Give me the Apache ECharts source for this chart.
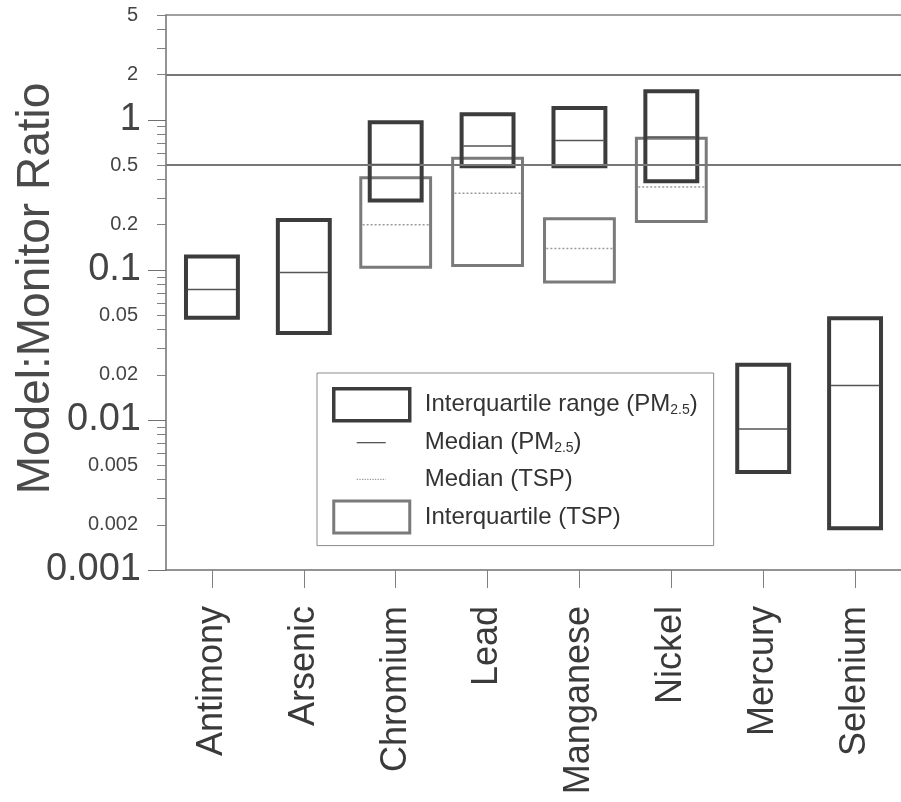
<!DOCTYPE html>
<html>
<head>
<meta charset="utf-8">
<script src="https://cdn.jsdelivr.net/npm/echarts@6/dist/echarts.min.js"></script>
<style>html,body{margin:0;padding:0;background:#fff}#c{width:901px;height:802px}</style>
</head>
<body>
<div id="c"></div>
<script>
// ---- data ----
const categories = ['Antimony', 'Arsenic', 'Chromium', 'Lead', 'Manganese', 'Nickel', 'Mercury', 'Selenium'];
const pm25Q1     = [0.048, 0.038, 0.29, 0.49, 0.49, 0.39, 0.0045, 0.0019];
const pm25Median = [0.074, 0.096, 0.505, 0.67, 0.73, 0.77, 0.0087, 0.017];
const pm25Q3     = [0.123, 0.215, 0.965, 1.09, 1.2, 1.55, 0.0233, 0.0476];
const tspQ1      = [null, null, 0.104, 0.107, 0.083, 0.21, null, null];
const tspMedian  = [null, null, 0.2, 0.324, 0.139, 0.357, null, null];
const tspQ3      = [null, null, 0.412, 0.555, 0.219, 0.755, null, null];
const refLines   = [2, 0.5];
const yLabelValues = [0.001, 0.002, 0.005, 0.01, 0.02, 0.05, 0.1, 0.2, 0.5, 1, 2, 5];
const yMajorTicks  = [0.001, 0.01, 0.1, 1];
const yMinorTicks  = [0.002, 0.003, 0.004, 0.005, 0.006, 0.007, 0.008, 0.009,
                      0.02, 0.03, 0.04, 0.05, 0.06, 0.07, 0.08, 0.09,
                      0.2, 0.3, 0.4, 0.5, 0.6, 0.7, 0.8, 0.9,
                      2, 3, 4, 5];
const legendNames = ['Interquartile range (PM2.5)', 'Median (PM2.5)', 'Median (TSP)', 'Interquartile (TSP)'];

// ---- helpers ----
const FONT = '"Liberation Sans", Arial, Helvetica, sans-serif';
function boxData(q1, q3) {
  const out = [];
  categories.forEach((c, i) => { if (q1[i] != null && q3[i] != null) out.push([i, q1[i], q3[i]]); });
  return out;
}
function medData(m) {
  const out = [];
  categories.forEach((c, i) => { if (m[i] != null) out.push([i, m[i]]); });
  return out;
}
function boxRenderer(frac, stroke, lw) {
  return function (params, api) {
    const x = api.value(0);
    const pHi = api.coord([x, api.value(2)]);
    const pLo = api.coord([x, api.value(1)]);
    const band = api.size([1, 1])[0];
    const w = band * frac;
    return {
      type: 'rect',
      shape: { x: pHi[0] - w / 2, y: pHi[1], width: w, height: pLo[1] - pHi[1] },
      style: { fill: 'none', stroke: stroke, lineWidth: lw }
    };
  };
}
function medRenderer(frac, stroke, lw, dash) {
  return function (params, api) {
    const x = api.value(0);
    const p = api.coord([x, api.value(1)]);
    const band = api.size([1, 1])[0];
    const w = band * frac;
    return {
      type: 'line',
      shape: { x1: p[0] - w / 2, y1: p[1], x2: p[0] + w / 2, y2: p[1] },
      style: { stroke: stroke, lineWidth: lw, lineDash: dash || null }
    };
  };
}
function isDecade(v) {
  const l = Math.log10(v);
  return Math.abs(l - Math.round(l)) < 1e-6;
}

const boxIcon = 'path://M0,0L76,0L76,32L0,32Z';
const lineIcon = 'path://M0,0M76,32M23,16L52,16';

const chart = echarts.init(document.getElementById('c'), null, { renderer: 'canvas' });
chart.setOption({
  animation: false,
  backgroundColor: '#ffffff',
  textStyle: { fontFamily: FONT },
  grid: { left: 166, top: 15, width: 742, bottom: 232, containLabel: false },
  xAxis: [{
    type: 'category',
    data: categories,
    boundaryGap: true,
    axisLine: { show: true, lineStyle: { color: '#707070', width: 1.5 } },
    axisTick: { show: true, alignWithLabel: true, length: 18, lineStyle: { color: '#808080', width: 1 } },
    axisLabel: { rotate: 90, interval: 0, margin: 36, fontSize: 36, color: '#3a3a3a', fontFamily: FONT },
    splitLine: { show: false }
  }, {
    type: 'category',
    position: 'top',
    data: categories,
    axisLine: { show: true, lineStyle: { color: '#808080', width: 1.5 } },
    axisTick: { show: false },
    axisLabel: { show: false },
    splitLine: { show: false }
  }],
  yAxis: [{
    type: 'log',
    logBase: 10,
    min: 0.001,
    max: 5,
    name: 'Model:Monitor Ratio',
    nameLocation: 'middle',
    nameGap: 107,
    nameMoveOverlap: false,
    nameTextStyle: { fontSize: 46, color: '#4a4a4a', fontFamily: FONT, padding: [0, 0, 0, 8] },
    axisLine: { show: true, lineStyle: { color: '#707070', width: 1.5 } },
    axisTick: { show: true, length: 18, customValues: yMajorTicks, lineStyle: { color: '#707070', width: 1 } },
    axisLabel: {
      customValues: yLabelValues,
      margin: 25,
      color: '#444',
      fontFamily: FONT,
      formatter: function (v) {
        const s = String(parseFloat(Number(v).toPrecision(6)));
        return isDecade(v) ? '{big|' + s + '}' : '{small|' + s + '}';
      },
      rich: {
        big: { fontSize: 38, color: '#444', fontFamily: FONT },
        small: { fontSize: 20, color: '#444', fontFamily: FONT, padding: [0, 3, 0, 0] }
      }
    },
    splitLine: { show: false },
    minorTick: { show: false }
  }, {
    type: 'log',
    logBase: 10,
    min: 0.001,
    max: 5,
    position: 'left',
    axisLine: { show: false },
    axisTick: { show: true, length: 9, customValues: yMinorTicks, lineStyle: { color: '#808080', width: 1 } },
    axisLabel: { show: false },
    splitLine: { show: false }
  }],
  legend: {
    orient: 'vertical',
    left: 317,
    top: 373,
    padding: [14, 16, 11, 15],
    itemWidth: 76,
    itemHeight: 32,
    itemGap: 3.5,
    selectedMode: false,
    borderColor: '#8a8a8a',
    borderWidth: 1,
    textStyle: {
      fontSize: 24, lineHeight: 28, color: '#333', fontFamily: FONT,
      rich: {
        g: { width: 10, lineHeight: 28 },
        sub: { fontSize: 14, lineHeight: 16, color: '#333', fontFamily: FONT, padding: [10, 0, 0, 0] }
      }
    },
    formatter: function (name) {
      return '{g|}' + name.replace('PM2.5', 'PM{sub|2.5}');
    },
    data: [
      { name: legendNames[0], icon: boxIcon, itemStyle: { color: 'transparent', borderColor: '#3c3c3c', borderWidth: 3.5 } },
      { name: legendNames[1], icon: lineIcon, itemStyle: { color: 'transparent', borderColor: '#555555', borderWidth: 1.3 } },
      { name: legendNames[2], icon: lineIcon, itemStyle: { color: 'transparent', borderColor: '#9a9a9a', borderWidth: 1.3, borderType: 'dotted' } },
      { name: legendNames[3], icon: boxIcon, itemStyle: { color: 'transparent', borderColor: '#7a7a7a', borderWidth: 3 } }
    ]
  },
  series: [
    {
      name: legendNames[3],
      type: 'custom',
      xAxisIndex: 0, yAxisIndex: 0,
      renderItem: boxRenderer(0.76, '#7a7a7a', 3),
      itemStyle: { color: '#7a7a7a' },
      encode: { x: 0, y: [1, 2] },
      data: boxData(tspQ1, tspQ3),
      z: 2,
      markLine: {
        silent: true,
        symbol: ['none', 'none'],
        label: { show: false },
        lineStyle: { color: '#777', width: 2, type: 'solid' },
        data: refLines.map(v => ({ yAxis: v }))
      }
    },
    {
      name: legendNames[2],
      type: 'custom',
      xAxisIndex: 0, yAxisIndex: 0,
      renderItem: medRenderer(0.72, '#9a9a9a', 1.5, [2, 2]),
      itemStyle: { color: '#9a9a9a' },
      encode: { x: 0, y: 1 },
      data: medData(tspMedian),
      z: 3
    },
    {
      name: legendNames[0],
      type: 'custom',
      xAxisIndex: 0, yAxisIndex: 0,
      renderItem: boxRenderer(0.565, '#3c3c3c', 4),
      itemStyle: { color: '#3c3c3c' },
      encode: { x: 0, y: [1, 2] },
      data: boxData(pm25Q1, pm25Q3),
      z: 4
    },
    {
      name: legendNames[1],
      type: 'custom',
      xAxisIndex: 0, yAxisIndex: 0,
      renderItem: medRenderer(0.53, '#555555', 1.5),
      itemStyle: { color: '#555555' },
      encode: { x: 0, y: 1 },
      data: medData(pm25Median),
      z: 5
    }
  ]
});
</script>
</body>
</html>
